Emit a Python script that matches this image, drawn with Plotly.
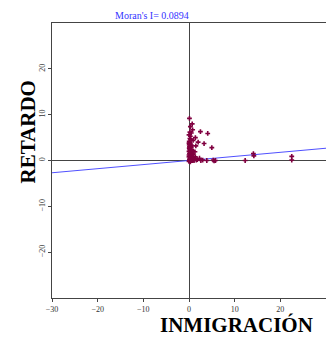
import plotly.graph_objects as go

# Scatter data: INMIGRACIÓN (x) vs spatial lag RETARDO (y)
inmigracion = [0.1, 0.7, 0.3, 0.8, 2.5, 4.1, 0.5, 1.4, 2.0, 3.3, 5.0, 1.5, 0.9, 0.3, 0.2,
               2.3, 3.0, 3.9, 5.3, 5.8, 5.5, 12.3, 14.1, 14.2, 22.5, 22.5, 1.8, 2.6,
               0.0, 0.05, 0.1, 0.15, 0.2, 0.25, 0.3, 0.35, 0.4, 0.5, 0.6, 0.7, 0.8, 0.9,
               1.0, 1.1, 0.0, 0.1, 0.2, 0.3, 0.4, 0.5, 0.6, 0.2, 0.1, 0.0, 0.3, 0.5, 0.7,
               0.9, 1.2, 1.4, 0.05, 0.15, 0.25, 0.45, 0.65, 0.85, 0.0, 0.1, 0.0, 0.2, 0.4,
               0.1, 0.3, 0.6, 0.0, 0.15, 0.7, 1.0, 0.35, 0.55, 1.3, 1.6, 0.05, 0.8]
retardo = [9.2, 8.0, 7.4, 6.7, 6.3, 5.9, 6.0, 5.0, 4.0, 3.7, 2.8, 3.2, 4.4, 5.3, 4.8,
           0.5, 0.1, 0.0, 0.1, 0.0, -0.1, 0.0, 1.5, 1.0, 0.9, 0.1, 0.2, 0.0,
           3.8, 3.4, 3.0, 2.6, 2.2, 1.8, 1.4, 1.0, 0.6, 0.3, 0.1, 0.5, 0.9, 1.3,
           0.2, 0.0, 2.0, 1.5, 1.1, 0.7, 0.4, 1.9, 2.4, 2.8, 0.3, 0.8, 3.5, 2.9, 1.6,
           0.6, 0.4, 0.8, 4.2, 4.0, 3.7, 2.3, 1.2, 2.1, -0.2, -0.1, 5.6, 6.2, 3.1,
           0.0, -0.3, 0.0, 1.2, 2.5, 0.0, 0.1, 4.6, 3.3, 1.9, 0.1, 2.7, 0.3]

# Regression line (slope = Moran's I)
line_x = [-30, 30]
line_y = [-2.68, 2.68]

x_ticks = [-30, -20, -10, 0, 10, 20, 30]
y_ticks = [-20, -10, 0, 10, 20]

fig = go.Figure()
fig.add_trace(go.Scatter(x=line_x, y=line_y, mode="lines",
                         line=dict(color="#5050ff", width=1), hoverinfo="skip"))
fig.add_trace(go.Scatter(x=inmigracion, y=retardo, mode="markers",
                         marker=dict(symbol="cross", size=4, color="#800040",
                                     line=dict(width=0))))

axis_font = dict(family="Liberation Serif, Times New Roman, serif", size=8, color="#333333")
fig.update_layout(
    width=326, height=338,
    margin=dict(l=52, r=0, t=23, b=40),
    paper_bgcolor="white", plot_bgcolor="white",
    showlegend=False,
    xaxis=dict(range=[-30, 30], tickvals=x_ticks, ticks="outside", ticklen=3,
               tickcolor="#444", showline=True, linecolor="#444", linewidth=1,
               mirror=True, showgrid=False, zeroline=True, zerolinecolor="#444",
               zerolinewidth=1, tickfont=axis_font),
    yaxis=dict(range=[-30, 30], tickvals=y_ticks, ticks="outside", ticklen=3,
               tickcolor="#444", showline=True, linecolor="#444", linewidth=1,
               showgrid=False, zeroline=True, zerolinecolor="#444",
               zerolinewidth=1, tickangle=-90, tickfont=axis_font),
    annotations=[
        dict(text="Moran's I= 0.0894", xref="paper", yref="paper", x=0.365, y=1.0,
             yshift=8, xanchor="center", yanchor="middle", showarrow=False,
             font=dict(family="Liberation Serif, Times New Roman, serif", size=10,
                       color="#3333ff")),
        dict(text="<b>RETARDO</b>", xref="paper", yref="paper", x=-0.088, y=0.605,
             textangle=-90, xanchor="center", yanchor="middle", showarrow=False,
             font=dict(family="Liberation Serif, Times New Roman, serif", size=21,
                       color="black")),
        dict(text="<b>INMIGRACIÓN</b>", xref="paper", yref="paper", x=0.675, y=0,
             yshift=-27, xanchor="center", yanchor="middle", showarrow=False,
             font=dict(family="Liberation Serif, Times New Roman, serif", size=21,
                       color="black")),
    ],
)

fig.write_html("out.html",
               config={"displayModeBar": False},
               post_script="document.body.style.margin='0px';"
                           "document.body.style.overflow='hidden';")
